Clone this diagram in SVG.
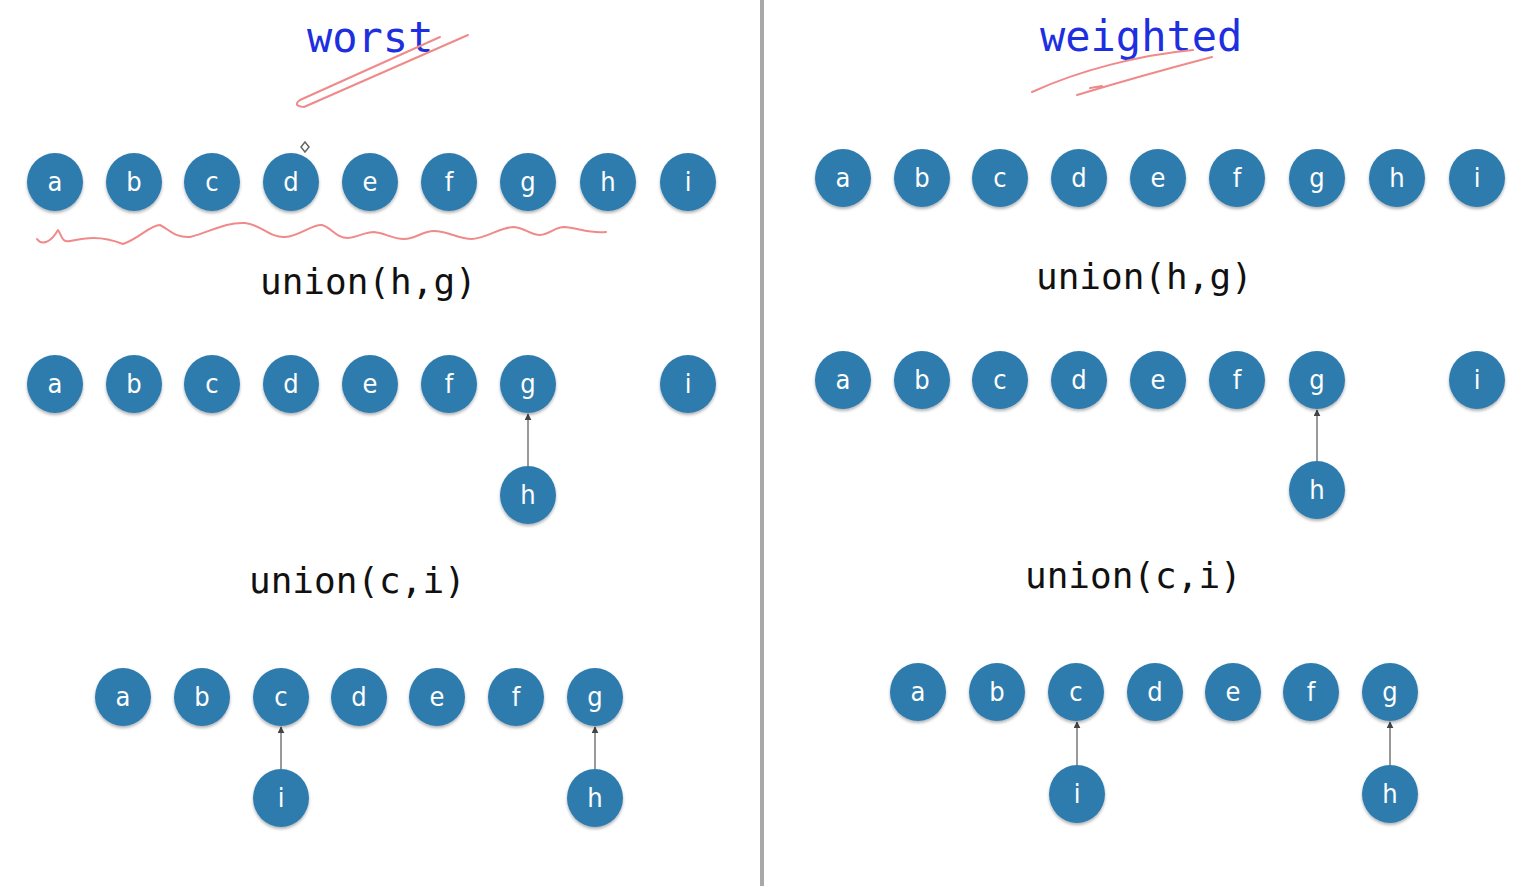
<svg xmlns="http://www.w3.org/2000/svg" width="1524" height="886" viewBox="0 0 1524 886">
<defs>
<filter id="sh" x="-30%" y="-30%" width="160%" height="170%">
<feDropShadow dx="0" dy="2" stdDeviation="1.5" flood-color="#000" flood-opacity="0.3"/>
</filter>
<marker id="ah" viewBox="0 0 10 10" refX="9" refY="5" markerWidth="7" markerHeight="7" orient="auto" markerUnits="userSpaceOnUse">
<path d="M0,0 L10,5 L0,10 z" fill="#444"/>
</marker>
<style>
.n ellipse{fill:#2f7bae;filter:url(#sh)}
.n text{fill:#fff;font-family:"DejaVu Sans",sans-serif;font-stretch:condensed;font-size:27px;text-anchor:middle}
.lbl{font-family:"DejaVu Sans Mono","Liberation Mono",monospace;font-size:36px;fill:#111}
.ttl{font-family:"DejaVu Sans Mono","Liberation Mono",monospace;font-size:42px;fill:#1e2fe0}
.ink{fill:none;stroke:#f08a8a;stroke-width:2;stroke-linecap:round;stroke-linejoin:round}
.e{stroke:#777;stroke-width:1.5;marker-end:url(#ah)}
</style>
</defs>
<rect width="1524" height="886" fill="#fff"/>
<rect x="760" y="0" width="4" height="886" fill="#a8a8a8"/>

<text class="ttl" x="307" y="52">worst</text>
<text class="ttl" x="1040" y="51">weighted</text>
<path class="ink" d="M440,37 L300,100 Q292,106 304,107 L468,35"/>
<path class="ink" d="M1032,92 C1080,70 1140,55 1193,50"/>
<path class="ink" d="M1212,57 C1170,68 1120,82 1077,95 M1090,88 L1102,86"/>
<path class="ink" d="M37,239 C41,245 50,244 58,230 C62,236 62,243 70,241 C85,238 100,235 123,244 C140,238 150,225 160,225 C170,230 175,238 190,237 C210,232 225,222 245,223 C260,224 270,238 285,237 C300,236 312,224 322,225 C332,228 336,238 348,238 C358,237 365,232 374,232 C385,233 392,239 404,239 C416,239 422,231 434,231 C448,231 458,239 472,239 C488,238 500,227 514,227 C525,228 530,235 540,235 C550,234 555,227 564,227 C578,228 590,234 606,232"/>
<polygon points="305,142 309,147 305,152 301,147" fill="#fff" stroke="#666" stroke-width="1.5"/>

<text class="lbl" x="260" y="294">union(h,g)</text>
<text class="lbl" x="249" y="593">union(c,i)</text>
<text class="lbl" x="1036" y="289">union(h,g)</text>
<text class="lbl" x="1025" y="588">union(c,i)</text>

<g id="connectors">
<line class="e" x1="528" y1="466" x2="528" y2="414"/>
<line class="e" x1="281" y1="769" x2="281" y2="727"/>
<line class="e" x1="595" y1="769" x2="595" y2="727"/>
<line class="e" x1="1317" y1="461" x2="1317" y2="410"/>
<line class="e" x1="1077" y1="765" x2="1077" y2="722"/>
<line class="e" x1="1390" y1="765" x2="1390" y2="722"/>
</g>

<g id="w1a" class="n"><ellipse cx="55" cy="182" rx="28" ry="29"/><text x="55" y="191">a</text></g>
<g id="w1b" class="n"><ellipse cx="134" cy="182" rx="28" ry="29"/><text x="134" y="191">b</text></g>
<g id="w1c" class="n"><ellipse cx="212" cy="182" rx="28" ry="29"/><text x="212" y="191">c</text></g>
<g id="w1d" class="n"><ellipse cx="291" cy="182" rx="28" ry="29"/><text x="291" y="191">d</text></g>
<g id="w1e" class="n"><ellipse cx="370" cy="182" rx="28" ry="29"/><text x="370" y="191">e</text></g>
<g id="w1f" class="n"><ellipse cx="449" cy="182" rx="28" ry="29"/><text x="449" y="191">f</text></g>
<g id="w1g" class="n"><ellipse cx="528" cy="182" rx="28" ry="29"/><text x="528" y="191">g</text></g>
<g id="w1h" class="n"><ellipse cx="608" cy="182" rx="28" ry="29"/><text x="608" y="191">h</text></g>
<g id="w1i" class="n"><ellipse cx="688" cy="182" rx="28" ry="29"/><text x="688" y="191">i</text></g>

<g id="w2a" class="n"><ellipse cx="55" cy="384" rx="28" ry="29"/><text x="55" y="393">a</text></g>
<g id="w2b" class="n"><ellipse cx="134" cy="384" rx="28" ry="29"/><text x="134" y="393">b</text></g>
<g id="w2c" class="n"><ellipse cx="212" cy="384" rx="28" ry="29"/><text x="212" y="393">c</text></g>
<g id="w2d" class="n"><ellipse cx="291" cy="384" rx="28" ry="29"/><text x="291" y="393">d</text></g>
<g id="w2e" class="n"><ellipse cx="370" cy="384" rx="28" ry="29"/><text x="370" y="393">e</text></g>
<g id="w2f" class="n"><ellipse cx="449" cy="384" rx="28" ry="29"/><text x="449" y="393">f</text></g>
<g id="w2g" class="n"><ellipse cx="528" cy="384" rx="28" ry="29"/><text x="528" y="393">g</text></g>
<g id="w2i" class="n"><ellipse cx="688" cy="384" rx="28" ry="29"/><text x="688" y="393">i</text></g>
<g id="w2h" class="n"><ellipse cx="528" cy="495" rx="28" ry="29"/><text x="528" y="504">h</text></g>

<g id="w3a" class="n"><ellipse cx="123" cy="697" rx="28" ry="29"/><text x="123" y="706">a</text></g>
<g id="w3b" class="n"><ellipse cx="202" cy="697" rx="28" ry="29"/><text x="202" y="706">b</text></g>
<g id="w3c" class="n"><ellipse cx="281" cy="697" rx="28" ry="29"/><text x="281" y="706">c</text></g>
<g id="w3d" class="n"><ellipse cx="359" cy="697" rx="28" ry="29"/><text x="359" y="706">d</text></g>
<g id="w3e" class="n"><ellipse cx="437" cy="697" rx="28" ry="29"/><text x="437" y="706">e</text></g>
<g id="w3f" class="n"><ellipse cx="516" cy="697" rx="28" ry="29"/><text x="516" y="706">f</text></g>
<g id="w3g" class="n"><ellipse cx="595" cy="697" rx="28" ry="29"/><text x="595" y="706">g</text></g>
<g id="w3i" class="n"><ellipse cx="281" cy="798" rx="28" ry="29"/><text x="281" y="807">i</text></g>
<g id="w3h" class="n"><ellipse cx="595" cy="798" rx="28" ry="29"/><text x="595" y="807">h</text></g>

<g id="q1a" class="n"><ellipse cx="843" cy="178" rx="28" ry="29"/><text x="843" y="187">a</text></g>
<g id="q1b" class="n"><ellipse cx="922" cy="178" rx="28" ry="29"/><text x="922" y="187">b</text></g>
<g id="q1c" class="n"><ellipse cx="1000" cy="178" rx="28" ry="29"/><text x="1000" y="187">c</text></g>
<g id="q1d" class="n"><ellipse cx="1079" cy="178" rx="28" ry="29"/><text x="1079" y="187">d</text></g>
<g id="q1e" class="n"><ellipse cx="1158" cy="178" rx="28" ry="29"/><text x="1158" y="187">e</text></g>
<g id="q1f" class="n"><ellipse cx="1237" cy="178" rx="28" ry="29"/><text x="1237" y="187">f</text></g>
<g id="q1g" class="n"><ellipse cx="1317" cy="178" rx="28" ry="29"/><text x="1317" y="187">g</text></g>
<g id="q1h" class="n"><ellipse cx="1397" cy="178" rx="28" ry="29"/><text x="1397" y="187">h</text></g>
<g id="q1i" class="n"><ellipse cx="1477" cy="178" rx="28" ry="29"/><text x="1477" y="187">i</text></g>

<g id="q2a" class="n"><ellipse cx="843" cy="380" rx="28" ry="29"/><text x="843" y="389">a</text></g>
<g id="q2b" class="n"><ellipse cx="922" cy="380" rx="28" ry="29"/><text x="922" y="389">b</text></g>
<g id="q2c" class="n"><ellipse cx="1000" cy="380" rx="28" ry="29"/><text x="1000" y="389">c</text></g>
<g id="q2d" class="n"><ellipse cx="1079" cy="380" rx="28" ry="29"/><text x="1079" y="389">d</text></g>
<g id="q2e" class="n"><ellipse cx="1158" cy="380" rx="28" ry="29"/><text x="1158" y="389">e</text></g>
<g id="q2f" class="n"><ellipse cx="1237" cy="380" rx="28" ry="29"/><text x="1237" y="389">f</text></g>
<g id="q2g" class="n"><ellipse cx="1317" cy="380" rx="28" ry="29"/><text x="1317" y="389">g</text></g>
<g id="q2i" class="n"><ellipse cx="1477" cy="380" rx="28" ry="29"/><text x="1477" y="389">i</text></g>
<g id="q2h" class="n"><ellipse cx="1317" cy="490" rx="28" ry="29"/><text x="1317" y="499">h</text></g>

<g id="q3a" class="n"><ellipse cx="918" cy="692" rx="28" ry="29"/><text x="918" y="701">a</text></g>
<g id="q3b" class="n"><ellipse cx="997" cy="692" rx="28" ry="29"/><text x="997" y="701">b</text></g>
<g id="q3c" class="n"><ellipse cx="1076" cy="692" rx="28" ry="29"/><text x="1076" y="701">c</text></g>
<g id="q3d" class="n"><ellipse cx="1155" cy="692" rx="28" ry="29"/><text x="1155" y="701">d</text></g>
<g id="q3e" class="n"><ellipse cx="1233" cy="692" rx="28" ry="29"/><text x="1233" y="701">e</text></g>
<g id="q3f" class="n"><ellipse cx="1311" cy="692" rx="28" ry="29"/><text x="1311" y="701">f</text></g>
<g id="q3g" class="n"><ellipse cx="1390" cy="692" rx="28" ry="29"/><text x="1390" y="701">g</text></g>
<g id="q3i" class="n"><ellipse cx="1077" cy="794" rx="28" ry="29"/><text x="1077" y="803">i</text></g>
<g id="q3h" class="n"><ellipse cx="1390" cy="794" rx="28" ry="29"/><text x="1390" y="803">h</text></g>
</svg>
